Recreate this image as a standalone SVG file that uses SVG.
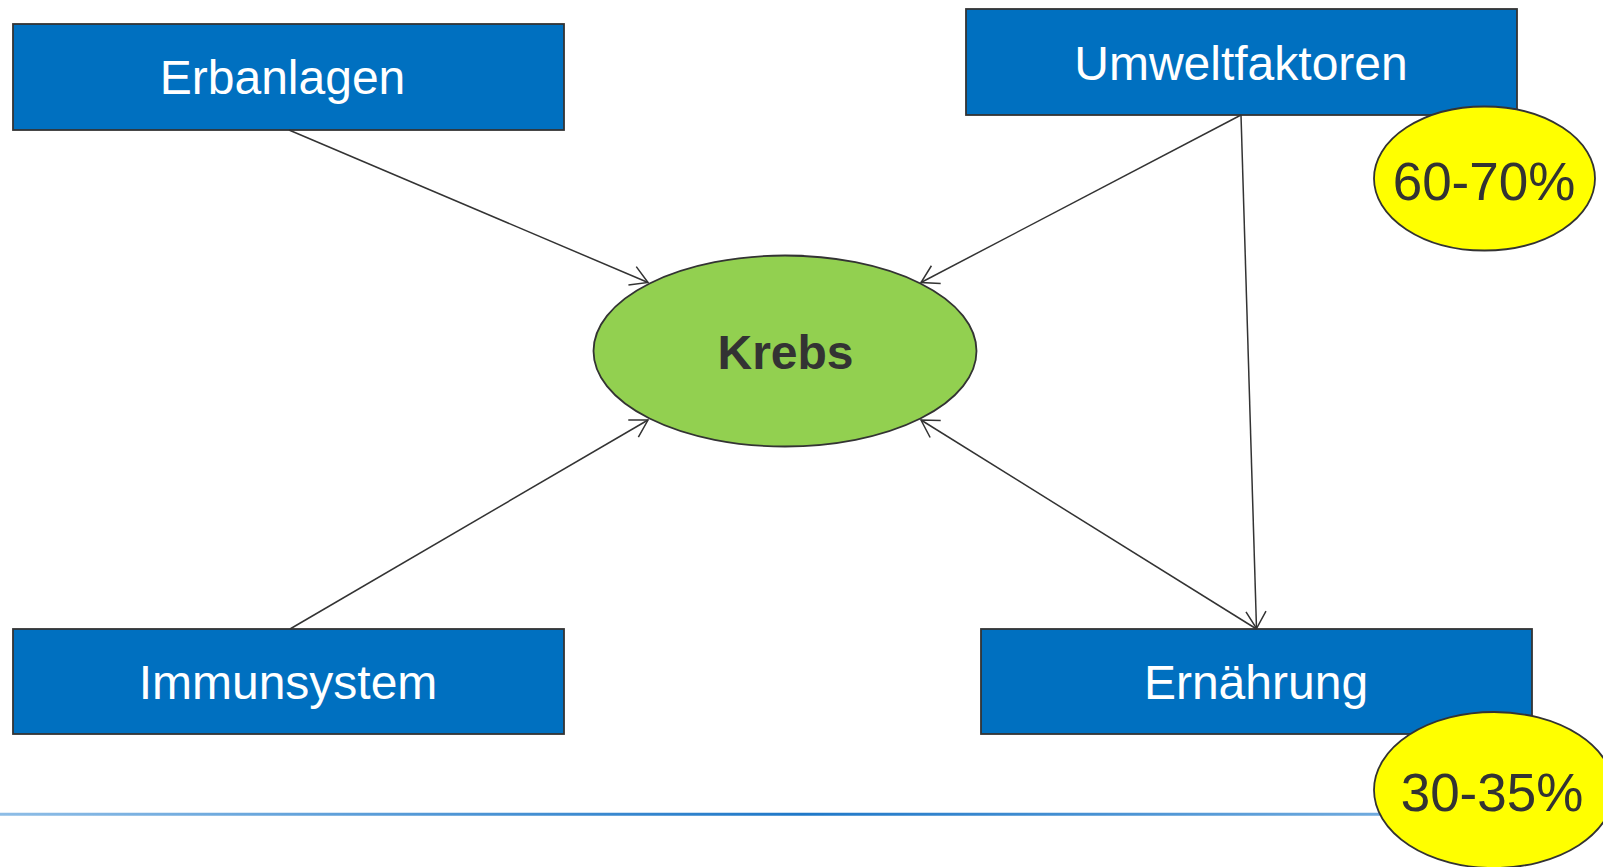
<svg xmlns="http://www.w3.org/2000/svg" width="1603" height="867" viewBox="0 0 1603 867">
<style>
.box{fill:#0070C0;stroke:#333;stroke-width:1.8}
.bt{font-family:"Liberation Sans",Arial,sans-serif;font-size:48px;fill:#fff;text-anchor:middle}
.conn{stroke:#333;stroke-width:1.5;fill:none;marker-end:url(#arr)}
.pct{fill:#FFFF00;stroke:#333;stroke-width:1.8}
.pt{font-family:"Liberation Sans",Arial,sans-serif;font-size:53px;fill:#333;text-anchor:middle}
</style>
<defs>
<marker id="arr" markerUnits="userSpaceOnUse" markerWidth="40" markerHeight="40" viewBox="-20 -20 40 40" refX="0" refY="0" orient="auto">
<path d="M-17,-10 L0,0 L-17,10" fill="none" stroke="#333" stroke-width="1.5"/>
</marker>
<linearGradient id="lg" x1="0" y1="0" x2="1603" y2="0" gradientUnits="userSpaceOnUse">
<stop offset="0" stop-color="#8EBDE6"/>
<stop offset="0.5" stop-color="#1F78C8"/>
<stop offset="1" stop-color="#8EBDE6"/>
</linearGradient>
</defs>
<rect width="1603" height="867" fill="#fff"/>
<line x1="0" y1="814.3" x2="1603" y2="814.3" stroke="url(#lg)" stroke-width="3"/>
<g id="erbanlagen">
<rect class="box" x="13" y="24" width="551" height="106"/>
<text class="bt" x="282.5" y="93.5">Erbanlagen</text>
</g>
<g id="umweltfaktoren">
<rect class="box" x="966" y="9" width="551" height="106"/>
<text class="bt" x="1241" y="80">Umweltfaktoren</text>
</g>
<g id="immunsystem">
<rect class="box" x="13" y="629" width="551" height="105"/>
<text class="bt" x="288" y="699">Immunsystem</text>
</g>
<g id="ernaehrung">
<rect class="box" x="981" y="629" width="551" height="105"/>
<text class="bt" x="1256" y="699">Ernährung</text>
</g>
<g id="krebs">
<ellipse cx="785" cy="351" rx="191.5" ry="95.5" fill="#92D050" stroke="#333" stroke-width="1.8"/>
<text x="785.5" y="369" font-family="'Liberation Sans',Arial,sans-serif" font-size="48" font-weight="bold" fill="#333" text-anchor="middle">Krebs</text>
</g>
<g id="connectors">
<line class="conn" x1="289" y1="130" x2="648" y2="282.5"/>
<line class="conn" x1="1241" y1="115" x2="921" y2="282.5"/>
<line class="conn" x1="1241" y1="115" x2="1256.5" y2="628.5"/>
<line class="conn" x1="290" y1="629" x2="648" y2="420"/>
<line class="conn" x1="1256.5" y1="629" x2="921" y2="420"/>
</g>
<g id="pct6070">
<ellipse class="pct" cx="1484.5" cy="178.5" rx="110.5" ry="72"/>
<text class="pt" x="1484" y="200">60-70%</text>
</g>
<g id="pct3035">
<ellipse class="pct" cx="1494" cy="790" rx="120" ry="78"/>
<text class="pt" x="1492" y="811">30-35%</text>
</g>
</svg>
